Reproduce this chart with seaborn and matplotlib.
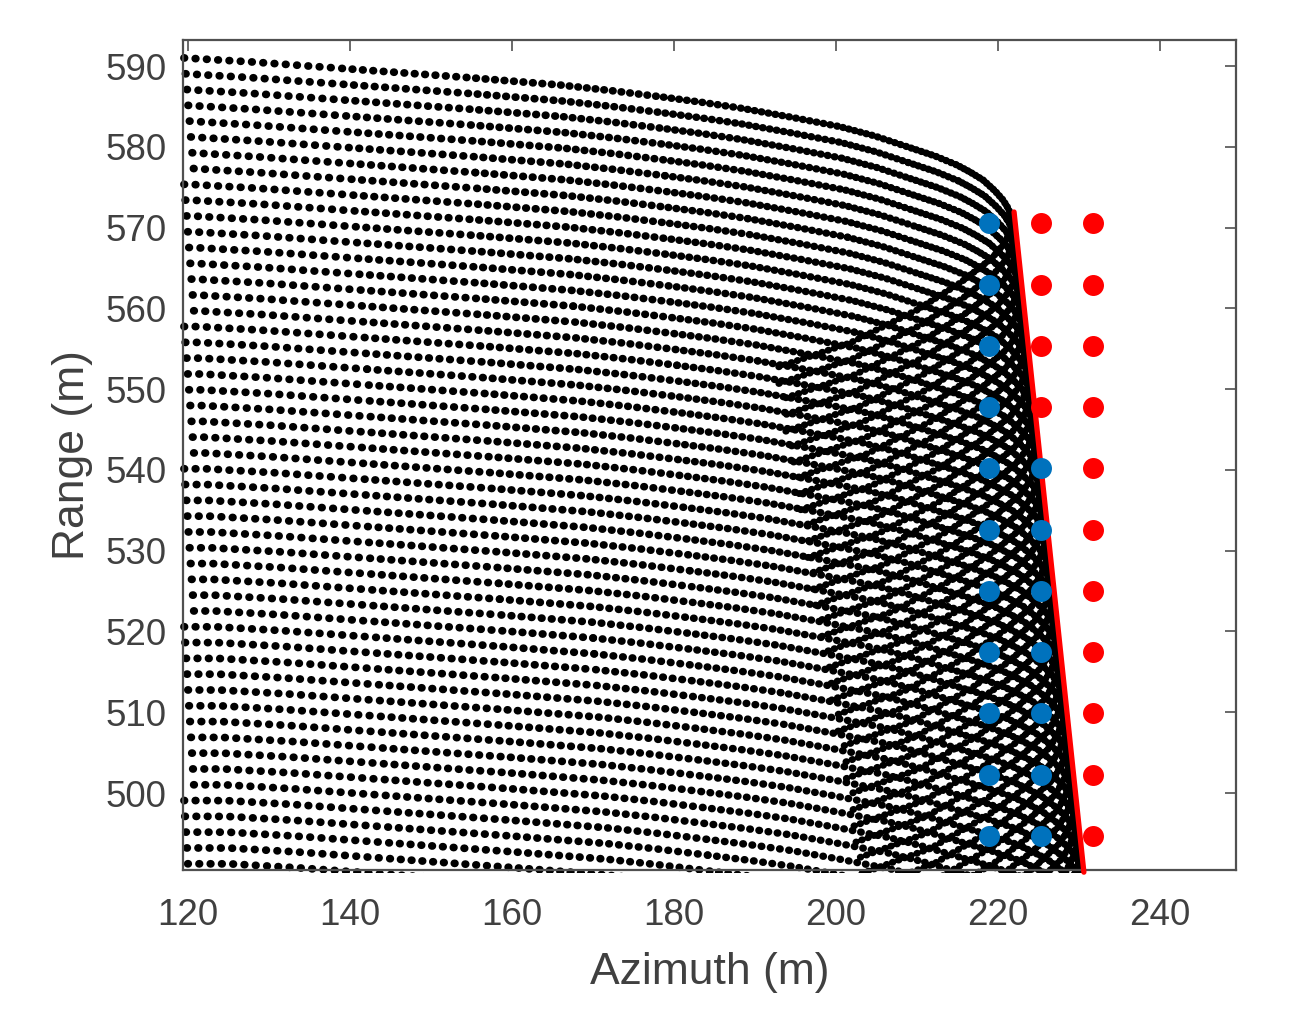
import numpy as np
import pandas as pd
import matplotlib
matplotlib.use("Agg")
import matplotlib.pyplot as plt
from matplotlib.patches import Rectangle
import seaborn as sns

row_start_az = [119.5, 119.68, 119.85, 120.0, 120.17, 120.33, 120.5, 120.67,
                119.5, 119.65, 119.8, 119.95, 120.1, 120.25, 120.4, 120.55, 120.7,
                119.5, 119.65, 119.8, 119.95, 120.1, 120.25, 120.4, 120.55, 120.7,
                119.5, 119.63, 119.77, 119.9, 120.03, 120.17, 120.3, 120.43, 120.57, 120.7,
                119.5, 119.62, 119.74, 119.86, 119.98, 120.1, 120.22, 120.34, 120.46, 120.58, 120.7,
                119.5, 119.6, 119.72, 119.84, 119.96]
row_start_range = [591.0, 589.04, 587.09, 585.13, 583.18, 581.22, 579.26, 577.31, 575.35, 573.4,
                   571.44, 569.48, 567.53, 565.57, 563.62, 561.66, 559.7, 557.75, 555.79, 553.84,
                   551.88, 549.92, 547.97, 546.01, 544.06, 542.1, 540.14, 538.19, 536.23, 534.28,
                   532.32, 530.36, 528.41, 526.45, 524.5, 522.54, 520.58, 518.63, 516.67, 514.72,
                   512.76, 510.8, 508.85, 506.89, 504.94, 502.98, 501.02, 499.07, 497.11, 495.16,
                   493.2, 491.24]

# top row: flat part, fold at the red line, way back down-left
top_row_az = [112.84, 119.51, 127.65, 140.0, 154.81, 165.93, 172.1, 178.27, 183.21, 188.15, 194.32,
              200.49, 204.81, 208.77, 212.22, 214.94, 216.54, 218.15, 219.63, 220.62, 221.23, 221.6,
              221.73, 221.48, 220.62, 219.26, 215.31, 210.0, 201.73, 192.47]
top_row_range = [591.2, 590.99, 590.52, 589.63, 588.55, 587.65, 586.97, 586.2, 585.54, 584.8, 583.69,
                 582.49, 581.33, 580.01, 578.86, 577.74, 576.88, 575.89, 574.53, 573.41, 572.42, 571.56,
                 570.69, 569.45, 567.84, 566.23, 563.14, 559.8, 555.71, 552.61]
# how far each of those knots moves in azimuth from one row to the next, read from the lower rows
row_drift_az = [0.111, 0.111, 0.111, 0.111, 0.111, 0.117, 0.12, 0.123, 0.13, 0.136, 0.136,
                0.136, 0.14, 0.15, 0.16, 0.173, 0.178, 0.185, 0.192, 0.198, 0.202, 0.205,
                0.207, 0.21, 0.216, 0.228, 0.247, 0.272, 0.309, 0.333]

target_rows_range = [570.56, 562.89, 555.34, 547.79, 540.24, 532.56, 525.01, 517.46, 509.91, 502.23, 494.68]
blue_az = [218.89] * 11 + [225.31] * 7
blue_range = target_rows_range + target_rows_range[4:]
red_az = [225.31] * 4 + [231.73] * 11
red_range = target_rows_range[:4] + target_rows_range

edge_az = [221.98, 230.6]
edge_range = [571.93, 490.2]

x_ticks = list(range(120, 241, 20))
y_ticks = list(range(500, 591, 10))

# dots sit closer together towards the fold, and less so on the lower rows
band_last_knot = [3, 4, 5, 7, 9, 11, 13, 15, 22, 26, 27, 29]
band_gap_top_px = [11.3, 10.4, 9.5, 8.7, 7.8, 7.0, 6.0, 5.3, 4.5, 4.5, 5.5, 6.5]
band_gap_bottom_px = [11.3, 10.8, 10.4, 10.0, 9.4, 8.8, 7.7, 6.5, 5.0, 4.5, 5.5, 6.5]
band_width_pt = [5.6, 5.6, 5.6, 5.5, 5.4, 5.3, 5.2, 5.2, 5.2, 5.0, 5.0, 5.0]

TEXT = "#404040"
DOT_PT = 0.4
sns.set_theme(style="white")
plt.rcParams["font.family"] = ["Liberation Sans", "DejaVu Sans"]
plt.rcParams["lines.scale_dashes"] = False

fig = plt.figure(figsize=(13.04, 10.28), dpi=100)
ax = fig.add_axes([183 / 1304, 1 - 870 / 1028, 1053 / 1304, 830 / 1028])
ax.set_xlim(119.38, 249.38)
ax.set_ylim(490.47, 593.22)

top_az = np.array(top_row_az)
top_rng = np.array(top_row_range)
drift = np.array(row_drift_az)

for k, (start_az, start_rng) in enumerate(zip(row_start_az, row_start_range)):
    xs = top_az + k * drift
    ys = top_rng + start_rng - row_start_range[0]
    # knots left of this row's first dot are outside the plot
    first_knot = int(np.argmax(xs > start_az + 0.5))
    last_x, last_y = start_az, start_rng
    since_dot = 0.0
    for last, gap_top, gap_bottom, width in zip(band_last_knot, band_gap_top_px, band_gap_bottom_px, band_width_pt):
        idx = np.arange(first_knot, last + 1)
        row = pd.DataFrame({"az": np.r_[last_x, xs[idx]], "rng": np.r_[last_y, ys[idx]]})
        gap = (gap_top + (gap_bottom - gap_top) * k / 51) * 0.72

        # carry the dot phase over so no two dots bunch up where the spacing changes
        offset = min(since_dot, gap - DOT_PT)
        sns.lineplot(data=row, x="az", y="rng", estimator=None, sort=False, color="black",
                     linewidth=width, linestyle=(offset, (DOT_PT, gap - DOT_PT)),
                     dash_capstyle="round", legend=False, ax=ax)
        px = ax.transData.transform(row[["az", "rng"]].to_numpy())
        since_dot = (offset + np.hypot(*np.diff(px, axis=0).T).sum() * 0.72) % gap

        last_x, last_y = xs[last], ys[last]
        first_knot = last + 1

# dots on the frame stay whole, as in the original
for line in ax.lines:
    line.set_clip_path(Rectangle((119.0, 490.1), 131, 104, transform=ax.transData))

sns.lineplot(x=edge_az, y=edge_range, sort=False, estimator=None, color="#FF0000", linewidth=3.8,
             solid_capstyle="round", clip_on=False, zorder=3, legend=False, ax=ax)
sns.scatterplot(x=red_az, y=red_range, color="#FF0000", s=228, linewidth=0, zorder=4, legend=False, ax=ax)
sns.scatterplot(x=blue_az, y=blue_range, color="#0072BD", s=228, linewidth=0, zorder=5, legend=False, ax=ax)

ax.set_xlim(119.38, 249.38)
ax.set_ylim(490.47, 593.22)
ax.set_xticks(x_ticks)
ax.set_yticks(y_ticks)
ax.tick_params(axis="both", direction="in", top=True, right=True, length=7.7, width=1.2,
               color="#505050", labelsize=26.5, labelcolor=TEXT, pad=12)
ax.tick_params(axis="x", pad=20)
for spine in ax.spines.values():
    spine.set_color("#505050")
    spine.set_linewidth(1.6)

ax.set_xlabel("Azimuth (m)", fontsize=32, color=TEXT, va="center")
ax.set_ylabel("Range (m)", fontsize=32, color=TEXT, va="center")
ax.xaxis.set_label_coords(0.5, -0.123)
ax.yaxis.set_label_coords(-0.105, 0.5)

fig.savefig("out.png", dpi=100, facecolor="white")
